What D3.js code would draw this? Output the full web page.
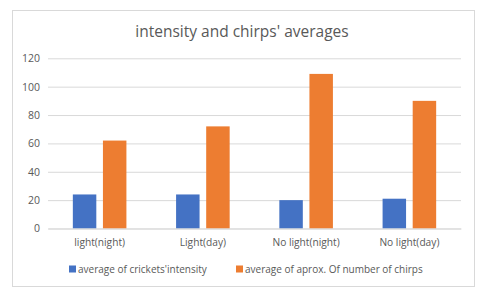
<!DOCTYPE html>
<html><head><meta charset="utf-8">
<script src="https://cdn.jsdelivr.net/npm/d3@7"></script>
<style>body{margin:0;background:#fff;} text{font-family:"Open Sans",sans-serif;}</style>
</head><body><svg id="c" width="484" height="296"></svg>
<script>
const categories = ["light(night)", "Light(day)", "No light(night)", "No light(day)"];
const seriesNames = ["average of crickets'intensity", "average of aprox. Of number of chirps"];
const intensity = [24, 24, 20, 21];
const chirps = [62, 72, 109, 90];
const yTicks = [0, 20, 40, 60, 80, 100, 120];
const colors = ["#4472C4", "#ED7D31"];

const svg = d3.select("#c");
svg.append("rect").attr("x", 12.5).attr("y", 10.5).attr("width", 462).attr("height", 276)
  .attr("fill", "#fff").attr("stroke", "#d9d9d9");

svg.append("text").attr("x", 242).attr("y", 37).attr("text-anchor", "middle")
  .attr("font-size", 15.5).attr("fill", "#595959").text("intensity and chirps' averages");

const x0 = d3.scaleBand().domain(categories).range([48, 461]);
const y = d3.scaleLinear().domain([0, 120]).range([228.5, 58.3]);
const series = [intensity, chirps];
const x1 = d3.scaleBand().domain([0, 1]).range([0, x0.bandwidth()]).paddingOuter(0.825).paddingInner(0.22);

const yAxis = d3.axisLeft(y).tickValues(yTicks).tickSize(-(461 - 48)).tickPadding(8);
const gy = svg.append("g").attr("transform", "translate(48,0)").call(yAxis);
gy.select(".domain").remove();
gy.selectAll(".tick line").attr("stroke", "#d9d9d9");
gy.selectAll(".tick text").attr("fill", "#595959").attr("font-size", 10.5).style("font-family", "Open Sans");

series.forEach((vals, si) => {
  svg.append("g").selectAll("rect").data(vals).join("rect")
    .attr("x", (d, i) => x0(categories[i]) + x1(si))
    .attr("width", x1.bandwidth())
    .attr("y", d => y(d))
    .attr("height", d => y(0) - y(d))
    .attr("fill", colors[si]);
});

const xAxis = d3.axisBottom(x0).tickSize(0).tickPadding(10);
const gx = svg.append("g").attr("transform", `translate(0,${y(0)})`).call(xAxis);
gx.select(".domain").attr("stroke", "#d9d9d9");
gx.selectAll(".tick text").attr("fill", "#595959").attr("font-size", 10.2).style("font-family", "Open Sans");

const legendX = [69, 236];
seriesNames.forEach((n, i) => {
  const g = svg.append("g").attr("transform", `translate(${legendX[i]},269)`);
  g.append("rect").attr("x", 0).attr("y", -3.5).attr("width", 7).attr("height", 7).attr("fill", colors[i]);
  g.append("text").attr("x", 9).attr("y", 3.6).attr("font-size", 10).attr("fill", "#595959").text(n);
});
</script></body></html>
